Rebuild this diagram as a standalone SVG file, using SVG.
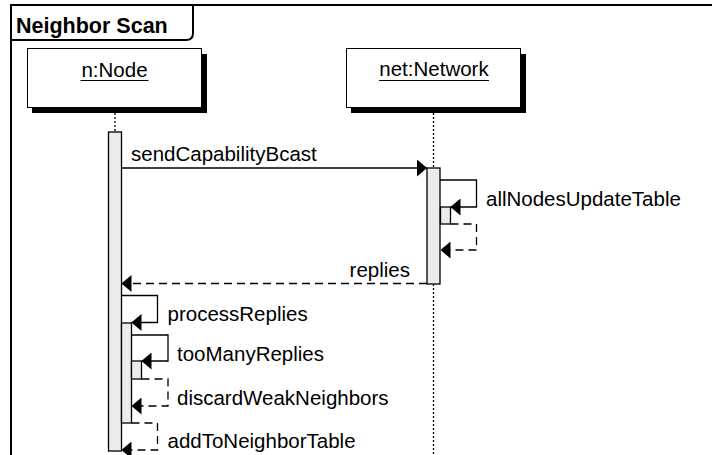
<svg xmlns="http://www.w3.org/2000/svg" width="712" height="455" viewBox="0 0 712 455">
<style>
text{font-family:"Liberation Sans",Arial,sans-serif;font-size:20.5px;fill:#000}
.title{font-weight:bold;font-size:21.5px}
.box{fill:#fff;stroke:#000;stroke-width:1}
.shadow{fill:#000}
.life{stroke:#000;stroke-width:1.3;stroke-dasharray:2 2;fill:none}
.act{fill:#ebebeb;stroke:#000;stroke-width:1.3}
.msg{fill:none;stroke:#000;stroke-width:1.3;marker-end:url(#arrow)}
.ret{fill:none;stroke:#000;stroke-width:1.3;stroke-dasharray:8 5;marker-end:url(#arrow)}
.frame{fill:none;stroke:#000;stroke-width:2}
</style>
<defs>
<marker id="arrow" viewBox="0 0 10 17" refX="10" refY="8.5" markerWidth="10" markerHeight="17" markerUnits="userSpaceOnUse" orient="auto">
<path d="M0,0 L10,8.5 L0,17 Z" fill="#000"/>
</marker>
</defs>
<rect width="712" height="455" fill="#fff"/>
<g id="frame">
<path class="frame" d="M11,456 L11,5 L713,5"/>
<path class="frame" d="M11,40 L186,40 Q193,40 193,33 L193,5"/>
<text class="title" x="16" y="33">Neighbor Scan</text>
</g>
<g id="node-n">
<line class="life" x1="115" y1="113" x2="115" y2="132"/>
<rect class="shadow" x="32" y="54" width="175" height="59"/>
<rect class="box" x="27.5" y="48.5" width="174" height="59"/>
<text x="114.5" y="77" text-anchor="middle">n:Node</text>
<line x1="80.5" y1="80.5" x2="148.5" y2="80.5" stroke="#000" stroke-width="1"/>
<rect class="act" x="108.5" y="132" width="13" height="319"/>
<rect class="act" x="121.5" y="323" width="10" height="100"/>
<rect class="act" x="131.5" y="361" width="10" height="18"/>
</g>
<g id="node-net">
<line class="life" x1="433.5" y1="113" x2="433.5" y2="168"/>
<line class="life" x1="433.5" y1="284" x2="433.5" y2="456"/>
<rect class="shadow" x="351" y="54" width="175" height="59"/>
<rect class="box" x="346.5" y="48.5" width="174" height="59"/>
<text x="434" y="76" text-anchor="middle">net:Network</text>
<line x1="379" y1="80.5" x2="489" y2="80.5" stroke="#000" stroke-width="1"/>
<rect class="act" x="427" y="168" width="13" height="116"/>
<rect class="act" x="440.5" y="207" width="10" height="17"/>
</g>
<g id="connectors">
<path class="msg" d="M121.5,168 L427,168"/>
<text x="131" y="161">sendCapabilityBcast</text>
<path class="msg" d="M440,180 L476.5,180 L476.5,207 L450.5,207"/>
<text x="486" y="206">allNodesUpdateTable</text>
<path class="ret" d="M450.5,224 L476.5,224 L476.5,250 L440.5,250"/>
<path class="ret" d="M427,283.5 L121.5,283.5"/>
<text x="410" y="277" text-anchor="end">replies</text>
<path class="msg" d="M121.5,295.5 L157.5,295.5 L157.5,322.5 L131.5,322.5"/>
<text x="167.5" y="321">processReplies</text>
<path class="msg" d="M131.5,335 L168,335 L168,361 L141.5,361"/>
<text x="177" y="361">tooManyReplies</text>
<path class="ret" d="M141.5,379 L168,379 L168,406 L131.5,406"/>
<text x="177" y="405">discardWeakNeighbors</text>
<path class="ret" d="M131.5,423 L157.5,423 L157.5,450 L121.5,450"/>
<text x="167.5" y="448">addToNeighborTable</text>
</g>
</svg>
